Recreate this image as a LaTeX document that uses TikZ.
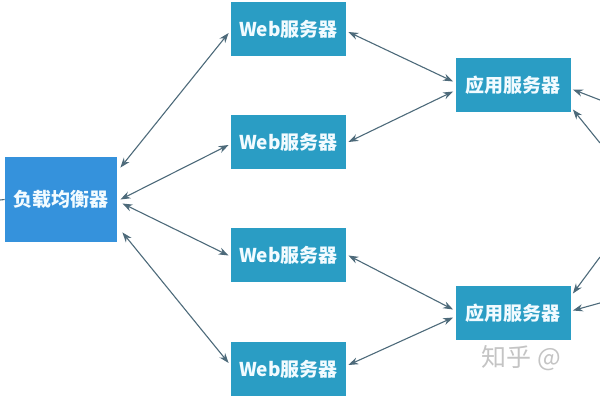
\documentclass[tikz,border=0pt]{standalone}
\usepackage{fontspec}
\setmainfont{Noto Sans CJK SC}
\usetikzlibrary{calc,arrows.meta}
\definecolor{teal}{HTML}{2A9DC4}
\definecolor{lbblue}{HTML}{3592DC}
\definecolor{arrowc}{HTML}{4D6A7A}
\definecolor{txt}{HTML}{F2FBFF}
\definecolor{wm}{HTML}{C4C4C4}
\tikzset{
  srv/.style={fill=teal, draw=none, minimum width=57.5pt, minimum height=27pt, inner sep=0pt,
    text=txt, font=\fontsize{9.5pt}{11pt}\selectfont\bfseries},
  lbbox/.style={srv, fill=lbblue, minimum width=56pt, minimum height=42.5pt},
  arr/.style={draw=arrowc, line width=0.55pt, {Stealth[length=5pt,width=3.6pt]}-{Stealth[length=5pt,width=3.6pt]}},
  arrone/.style={draw=arrowc, line width=0.55pt, -{Stealth[length=5pt,width=3.6pt]}},
}
\begin{document}
\begin{tikzpicture}[x=0.5pt,y=-0.5pt]
\useasboundingbox (0,0) rectangle (600,400);
\node[lbbox] (lb) at (61,199.5) {负载均衡器};
\node[srv] (w1) at (288.5,29) {Web服务器};
\node[srv] (w2) at (288.5,142) {Web服务器};
\node[srv] (w3) at (288.5,255.5) {Web服务器};
\node[srv] (w4) at (288.5,369) {Web服务器};
\node[srv] (a1) at (513,85.5) {应用服务器};
\node[srv] (a2) at (513,313.5) {应用服务器};
\node[text=wm, font=\fontsize{12.5pt}{13pt}\selectfont, anchor=west, inner sep=0pt] (wmk) at (481,358) {知乎 @};
\coordinate (l0) at (0,200);
\coordinate (r1) at (600,100);
\coordinate (r2) at (600,143);
\coordinate (r3) at (600,257);
\coordinate (r4) at (600,303);
% load balancer to web servers
\draw[arr] ($(lb.north east)+(3,11)$) -- ($(w1.west)+(-2,4)$);
\draw[arr] ($(lb.east)+(3,0)$) -- ($(w2.west)+(-2,3)$);
\draw[arr] ($(lb.east)+(5,4)$) -- ($(w3.west)+(-2,0)$);
\draw[arr] ($(lb.south east)+(5,-10)$) -- ($(w4.west)+(-2,-6)$);
% web servers to app servers
\draw[arr] ($(w1.east)+(2,3)$) -- ($(a1.west)+(-2,-4)$);
\draw[arr] ($(w2.east)+(2,0)$) -- ($(a1.west)+(-2,6)$);
\draw[arr] ($(w3.east)+(2,0)$) -- ($(a2.west)+(-2,-4)$);
\draw[arr] ($(w4.east)+(2,-4)$) -- ($(a2.west)+(-2,4)$);
% stubs at the edges
\draw[arrone] (r1) -- ($(a1.east)+(2,4)$);
\draw[arrone] (r2) -- ($(a1.east)+(2,24)$);
\draw[arrone] (r3) -- ($(a2.east)+(2,-20)$);
\draw[arrone] (r4) -- ($(a2.east)+(2,-3)$);
\draw[draw=arrowc, line width=0.55pt] (l0) -- (lb.west);
\end{tikzpicture}
\end{document}
